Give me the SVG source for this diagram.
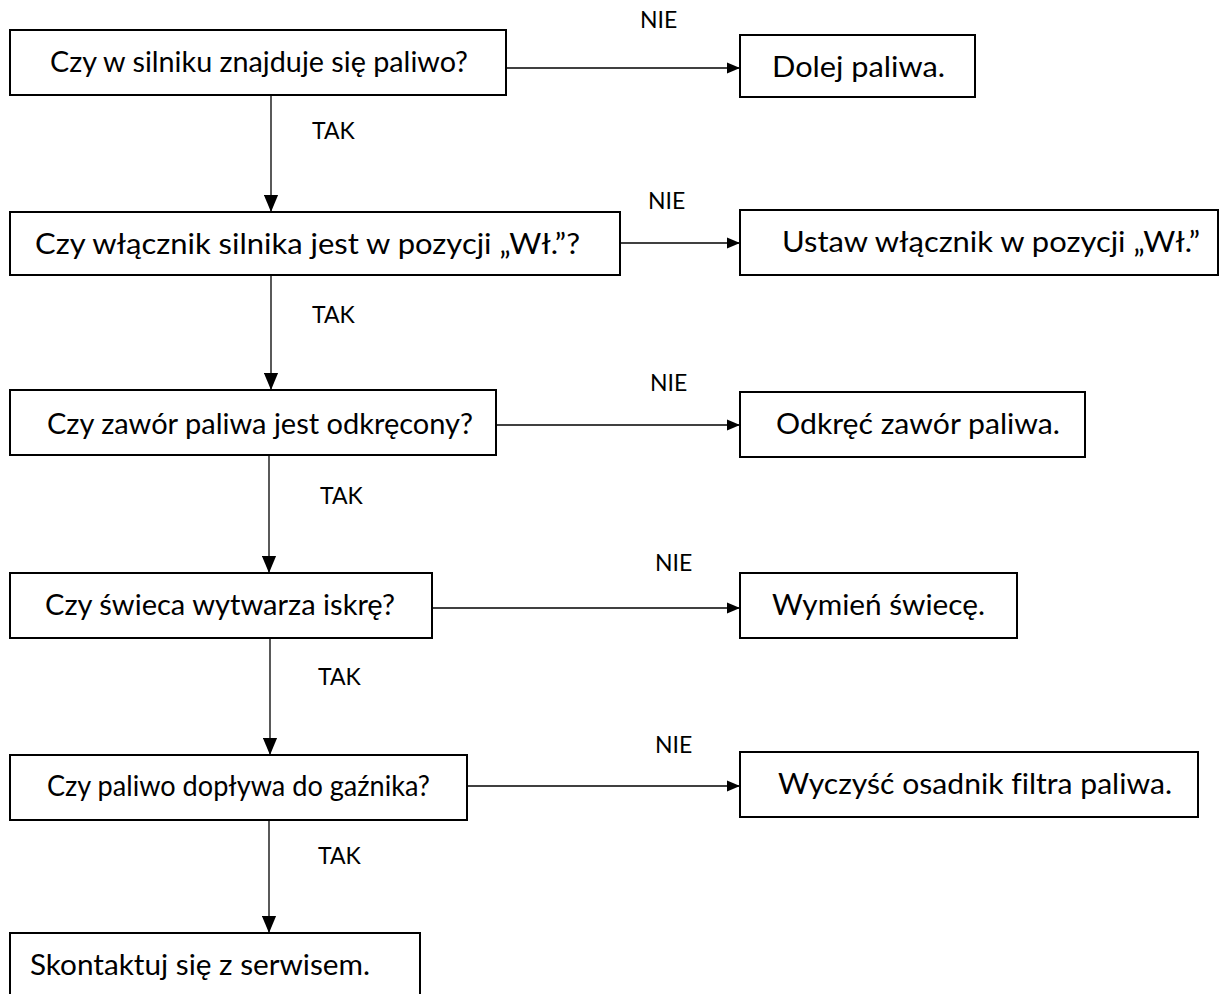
<svg xmlns="http://www.w3.org/2000/svg" width="1220" height="994" viewBox="0 0 1220 994">
<style>
.box{fill:#fff;stroke:#000;stroke-width:2}
.t{font-family:Lato,"Liberation Sans",sans-serif;font-size:29px;fill:#000;font-variant-ligatures:none}
.lbl{font-family:Lato,"Liberation Sans",sans-serif;font-size:23px;fill:#000}
.c{stroke:#000;stroke-width:1.3;fill:none}
</style>
<defs>
<marker id="ah" viewBox="0 0 12 10" refX="12" refY="5" markerWidth="13" markerHeight="12" markerUnits="userSpaceOnUse" orient="auto">
<path d="M0,0 L12,5 L0,10 Z" fill="#000"/>
</marker>
<marker id="av" viewBox="0 0 12 10" refX="12" refY="5" markerWidth="17" markerHeight="15" markerUnits="userSpaceOnUse" orient="auto">
<path d="M0,0 L12,5 L0,10 Z" fill="#000"/>
</marker>
</defs>
<g id="connectors">
<line class="c" x1="506" y1="68" x2="740" y2="68" marker-end="url(#ah)"/>
<line class="c" x1="620" y1="243" x2="740" y2="243" marker-end="url(#ah)"/>
<line class="c" x1="496" y1="425" x2="740" y2="425" marker-end="url(#ah)"/>
<line class="c" x1="432" y1="608" x2="740" y2="608" marker-end="url(#ah)"/>
<line class="c" x1="467" y1="786" x2="740" y2="786" marker-end="url(#ah)"/>
<line class="c" x1="271" y1="95" x2="271" y2="212" marker-end="url(#av)"/>
<line class="c" x1="271" y1="275" x2="271" y2="390" marker-end="url(#av)"/>
<line class="c" x1="269" y1="455" x2="269" y2="573" marker-end="url(#av)"/>
<line class="c" x1="270" y1="638" x2="270" y2="755" marker-end="url(#av)"/>
<line class="c" x1="269" y1="820" x2="269" y2="933" marker-end="url(#av)"/>
<text class="lbl" x="640" y="28">NIE</text>
<text class="lbl" x="648" y="209">NIE</text>
<text class="lbl" x="650" y="391">NIE</text>
<text class="lbl" x="655" y="571">NIE</text>
<text class="lbl" x="655" y="753">NIE</text>
<text class="lbl" x="312" y="139">TAK</text>
<text class="lbl" x="312" y="323">TAK</text>
<text class="lbl" x="320" y="504">TAK</text>
<text class="lbl" x="318" y="685">TAK</text>
<text class="lbl" x="318" y="864">TAK</text>
</g>
<g id="q1"><rect class="box" x="10" y="30" width="496" height="65"/><text class="t" x="50" y="72" textLength="418" lengthAdjust="spacingAndGlyphs">Czy w silniku znajduje się paliwo?</text></g>
<g id="a1"><rect class="box" x="740" y="35" width="235" height="62"/><text class="t" x="772" y="77" textLength="173" lengthAdjust="spacingAndGlyphs">Dolej paliwa.</text></g>
<g id="q2"><rect class="box" x="10" y="212" width="610" height="63"/><text class="t" x="35" y="254" textLength="545" lengthAdjust="spacingAndGlyphs">Czy włącznik silnika jest w pozycji „Wł.”?</text></g>
<g id="a2"><rect class="box" x="740" y="210" width="478" height="65"/><text class="t" x="782" y="252" textLength="418" lengthAdjust="spacingAndGlyphs">Ustaw włącznik w pozycji „Wł.”</text></g>
<g id="q3"><rect class="box" x="10" y="390" width="486" height="65"/><text class="t" x="47" y="434" textLength="426" lengthAdjust="spacingAndGlyphs">Czy zawór paliwa jest odkręcony?</text></g>
<g id="a3"><rect class="box" x="740" y="392" width="345" height="65"/><text class="t" x="776" y="434" textLength="284" lengthAdjust="spacingAndGlyphs">Odkręć zawór paliwa.</text></g>
<g id="q4"><rect class="box" x="10" y="573" width="422" height="65"/><text class="t" x="45" y="615" textLength="350" lengthAdjust="spacingAndGlyphs">Czy świeca wytwarza iskrę?</text></g>
<g id="a4"><rect class="box" x="740" y="573" width="277" height="65"/><text class="t" x="772" y="615" textLength="213" lengthAdjust="spacingAndGlyphs">Wymień świecę.</text></g>
<g id="q5"><rect class="box" x="10" y="755" width="457" height="65"/><text class="t" x="47" y="796" textLength="383" lengthAdjust="spacingAndGlyphs">Czy paliwo dopływa do gaźnika?</text></g>
<g id="a5"><rect class="box" x="740" y="752" width="458" height="65"/><text class="t" x="778" y="794" textLength="394" lengthAdjust="spacingAndGlyphs">Wyczyść osadnik filtra paliwa.</text></g>
<g id="end"><rect class="box" x="10" y="933" width="410" height="80"/><text class="t" x="30" y="975" textLength="340" lengthAdjust="spacingAndGlyphs">Skontaktuj się z serwisem.</text></g>
</svg>
